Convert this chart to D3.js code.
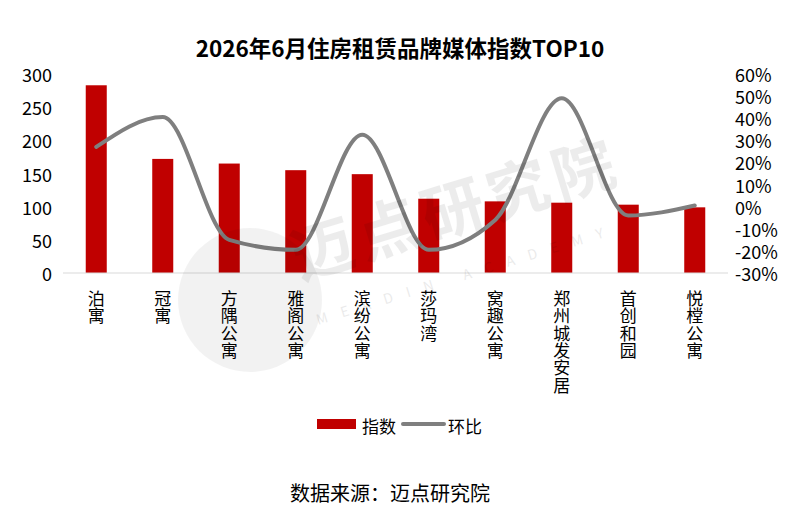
<!DOCTYPE html>
<html>
<head>
<meta charset="utf-8">
<script src="https://cdn.jsdelivr.net/npm/d3@7"></script>
<style>
  body { margin: 0; background: #fff; }
  svg text { font-family: "Noto Sans CJK SC", "Noto Sans", sans-serif; fill: #000; }
</style>
</head>
<body>
<div id="chart"></div>
<script>
// data
const brands = ["泊寓", "冠寓", "方隅公寓", "雅阁公寓", "滨纷公寓", "莎玛湾", "窝趣公寓", "郑州城发安居", "首创和园", "悦樘公寓"];
const indexValues = [283, 172, 165, 155, 149, 112, 108, 106, 103, 99];
const changeValues = [0.27, 0.405, -0.15, -0.195, 0.325, -0.195, -0.06, 0.49, -0.04, 0.005];
const leftTicks = [0, 50, 100, 150, 200, 250, 300];
const rightTicks = [-0.3, -0.2, -0.1, 0, 0.1, 0.2, 0.3, 0.4, 0.5, 0.6];

const W = 800, H = 508;
const svg = d3.select('#chart').append('svg')
  .attr('width', W)
  .attr('height', H);

const x = d3.scaleBand()
  .domain(brands)
  .range([63, 728])
  .paddingInner(0.684)
  .paddingOuter(0.342);

const yL = d3.scaleLinear().domain([0, 300]).range([273, 74]);
const yR = d3.scaleLinear().domain([-0.3, 0.6]).range([273, 74]);

// title
svg.append('text')
  .attr('x', 400).attr('y', 47)
  .attr('text-anchor', 'middle')
  .attr('dominant-baseline', 'central')
  .style('font-size', '22.5px')
  .style('font-weight', 'bold')
  .text('2026年6月住房租赁品牌媒体指数TOP10');

// left axis labels
svg.append('g').selectAll('text')
  .data(leftTicks)
  .join('text')
  .attr('x', 52)
  .attr('y', d => yL(d))
  .attr('text-anchor', 'end')
  .attr('dominant-baseline', 'central')
  .style('font-size', '18px')
  .text(d => d);

// right axis labels
svg.append('g').selectAll('text')
  .data(rightTicks)
  .join('text')
  .attr('x', 735)
  .attr('y', d => yR(d))
  .attr('dominant-baseline', 'central')
  .style('font-size', '18px')
  .text(d => Math.round(d * 100) + '%');

// bars
svg.append('g').selectAll('rect')
  .data(brands)
  .join('rect')
  .attr('x', d => x(d))
  .attr('width', x.bandwidth())
  .attr('y', (d, i) => yL(indexValues[i]))
  .attr('height', (d, i) => yL(0) - yL(indexValues[i]))
  .attr('fill', '#c00000');

// x axis line
svg.append('line')
  .attr('x1', 63).attr('x2', 728)
  .attr('y1', yL(0)).attr('y2', yL(0))
  .attr('stroke', '#d9d9d9')
  .attr('stroke-width', 1);

// smoothed line for 环比
const line = d3.line()
  .x((d, i) => x(brands[i]) + x.bandwidth() / 2)
  .y(d => yR(d))
  .curve(d3.curveMonotoneX);

svg.append('path')
  .datum(changeValues)
  .attr('d', line)
  .attr('fill', 'none')
  .attr('stroke', '#7f7f7f')
  .attr('stroke-width', 4)
  .attr('stroke-linecap', 'round');

// category labels, one character per row
svg.append('g').selectAll('text')
  .data(brands)
  .join('text')
  .attr('x', d => x(d) + x.bandwidth() / 2)
  .attr('y', 297)
  .attr('text-anchor', 'middle')
  .attr('dominant-baseline', 'central')
  .style('font-size', '17px')
  .each(function (d) {
    const t = d3.select(this);
    d.split('').forEach((c, i) => {
      t.append('tspan')
        .attr('x', x(d) + x.bandwidth() / 2)
        .attr('dy', i === 0 ? 0 : 17.3)
        .text(c);
    });
  });

// watermark
const wm = svg.append('g').attr('pointer-events', 'none');
wm.append('circle')
  .attr('cx', 250).attr('cy', 300).attr('r', 72)
  .attr('fill', '#000').attr('opacity', 0.05);
wm.append('text')
  .attr('transform', 'translate(300,280) rotate(-17)')
  .style('font-size', '62px')
  .style('font-weight', 'bold')
  .style('letter-spacing', '6px')
  .style('fill', '#000')
  .attr('opacity', 0.07)
  .text('迈点研究院');
wm.append('text')
  .attr('transform', 'translate(318,325) rotate(-17)')
  .style('font-size', '14px')
  .style('letter-spacing', '14px')
  .style('fill', '#000')
  .attr('opacity', 0.08)
  .text('MEADIN ACADEMY');

// legend
svg.append('rect')
  .attr('x', 317).attr('y', 419).attr('width', 39).attr('height', 10)
  .attr('fill', '#c00000');
svg.append('text')
  .attr('x', 362).attr('y', 425)
  .attr('dominant-baseline', 'central')
  .style('font-size', '17px')
  .text('指数');
svg.append('line')
  .attr('x1', 403).attr('x2', 444).attr('y1', 424).attr('y2', 424)
  .attr('stroke', '#7f7f7f').attr('stroke-width', 4).attr('stroke-linecap', 'round');
svg.append('text')
  .attr('x', 448).attr('y', 425)
  .attr('dominant-baseline', 'central')
  .style('font-size', '17px')
  .text('环比');

// source
svg.append('text')
  .attr('x', 390).attr('y', 492)
  .attr('text-anchor', 'middle')
  .attr('dominant-baseline', 'central')
  .style('font-size', '20px')
  .text('数据来源：迈点研究院');
</script>
</body>
</html>
